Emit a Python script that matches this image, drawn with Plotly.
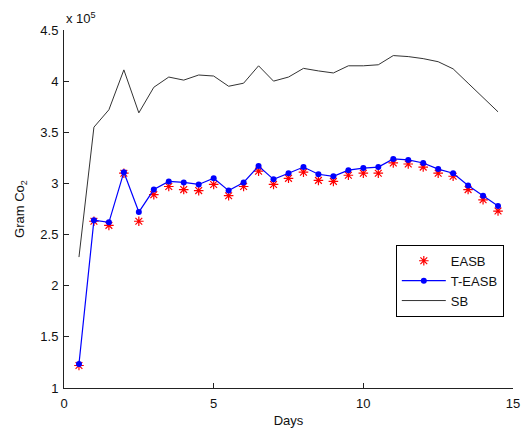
import plotly.graph_objects as go

days = [0.5, 1.0, 1.5, 2.0, 2.5, 3.0, 3.5, 4.0, 4.5, 5.0, 5.5, 6.0, 6.5, 7.0, 7.5,
        8.0, 8.5, 9.0, 9.5, 10.0, 10.5, 11.0, 11.5, 12.0, 12.5, 13.0, 13.5, 14.0, 14.5]

# values in units of 1e5 gram CO2
easb = [1.22, 2.63, 2.59, 3.10, 2.63, 2.89, 2.97, 2.94, 2.93, 2.99, 2.88, 2.97, 3.12, 2.99, 3.05,
        3.11, 3.03, 3.02, 3.08, 3.10, 3.10, 3.20, 3.19, 3.16, 3.10, 3.07, 2.94, 2.84, 2.73]
t_easb = [1.235, 2.64, 2.62, 3.11, 2.72, 2.94, 3.02, 3.01, 2.99, 3.05, 2.93, 3.01, 3.17, 3.04, 3.10,
          3.16, 3.09, 3.07, 3.13, 3.15, 3.16, 3.24, 3.23, 3.20, 3.14, 3.10, 2.98, 2.88, 2.78]
sb = [2.28, 3.55, 3.72, 4.11, 3.69, 3.94, 4.04, 4.01, 4.06, 4.05, 3.95, 3.98, 4.15, 4.00, 4.04,
      4.125, 4.10, 4.08, 4.15, 4.15, 4.16, 4.25, 4.24, 4.22, 4.19, 4.12, 3.98, 3.84, 3.70]

SCALE = 1e5
y_ticks = [1, 1.5, 2, 2.5, 3, 3.5, 4, 4.5]
y_tick_labels = ["1", "1.5", "2", "2.5", "3", "3.5", "4", "4.5"]
x_ticks = [0, 5, 10, 15]

fig = go.Figure()
fig.add_trace(go.Scatter(
    x=days, y=[v * SCALE for v in easb], name="EASB", mode="markers",
    marker=dict(symbol="asterisk-open", size=8, color="red",
                line=dict(color="red", width=1.2))))
fig.add_trace(go.Scatter(
    x=days, y=[v * SCALE for v in t_easb], name="T-EASB", mode="lines+markers",
    line=dict(color="blue", width=1.2),
    marker=dict(symbol="circle", size=6, color="blue")))
fig.add_trace(go.Scatter(
    x=days, y=[v * SCALE for v in sb], name="SB", mode="lines",
    line=dict(color="#333333", width=1)))

font = dict(family="Liberation Sans, Arial, sans-serif", size=13, color="#111111")

fig.update_layout(
    width=531, height=429,
    margin=dict(l=64, r=18, t=30, b=41),
    paper_bgcolor="white", plot_bgcolor="white",
    font=font,
    showlegend=True,
    legend=dict(x=0.739, y=0.40, xanchor="left", yanchor="top",
                bordercolor="black", borderwidth=1, bgcolor="white",
                font=font, tracegroupgap=0, itemwidth=44),
    xaxis=dict(range=[0, 15], tickvals=x_ticks, ticks="inside", ticklen=5,
               tickcolor="#222222", showline=True, linecolor="#222222", linewidth=1,
               showgrid=False, zeroline=False, mirror=False, ticklabelstandoff=3,
               automargin=False,
               title=dict(text="Days", standoff=6, font=font)),
    yaxis=dict(range=[1 * SCALE, 4.5 * SCALE],
               tickvals=[t * SCALE for t in y_ticks], ticktext=y_tick_labels,
               ticks="inside", ticklen=5, tickcolor="#222222",
               showline=True, linecolor="#222222", linewidth=1,
               showgrid=False, zeroline=False, mirror=False, ticklabelstandoff=2,
               automargin=False,
               title=dict(text="Gram Co<sub>2</sub>", standoff=12, font=font)),
    annotations=[dict(text="x 10<sup>5</sup>", xref="paper", yref="paper",
                      x=0.0, y=1.0, xanchor="left", yanchor="bottom",
                      showarrow=False, font=font, yshift=2)],
)

fig.write_html("out.html")
